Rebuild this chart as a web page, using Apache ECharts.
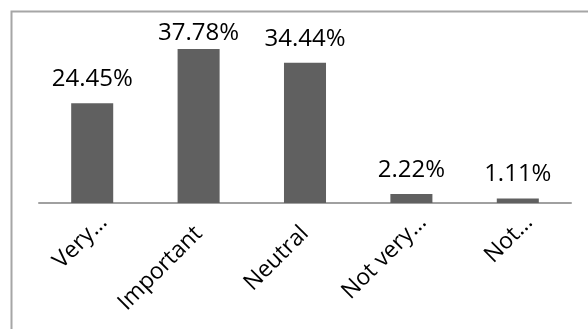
<!DOCTYPE html>
<html>
<head>
<meta charset="utf-8">
<script src="https://cdn.jsdelivr.net/npm/echarts@6/dist/echarts.min.js"></script>
<style>
  html, body { margin: 0; padding: 0; background: #ffffff; }
  #chart { width: 588px; height: 329px; }
</style>
</head>
<body>
<div id="chart"></div>
<script>
// Survey answers and their share of responses (%)
const categories = ['Very…', 'Important', 'Neutral', 'Not very…', 'Not…'];
const shares = [24.45, 37.78, 34.44, 2.22, 1.11];

const FONT = '"Open Sans", "Liberation Sans", sans-serif';

// Shortened names sit a little further along the slanted line than full ones
const axisData = categories.map(name => ({
  value: name,
  textStyle: name.endsWith('…') ? { padding: [0, -16, 0, 0] } : {}
}));

// The tallest bar's value sits closer to its bar so it stays inside the frame
const barData = shares.map(v => ({
  value: v,
  label: v === Math.max(...shares) ? { distance: 4 } : {}
}));

const chart = echarts.init(document.getElementById('chart'), null, { renderer: 'canvas' });
chart.setOption({
  animation: false,
  backgroundColor: '#ffffff',
  graphic: [{
    type: 'rect',
    left: 9, top: 9,
    shape: { width: 640, height: 400 },
    style: { fill: 'none', stroke: '#a6a6a6', lineWidth: 2 },
    silent: true
  }],
  grid: { left: 39, right: 17, top: 40, bottom: 126, containLabel: false },
  xAxis: {
    type: 'category',
    data: axisData,
    axisLine: { lineStyle: { color: '#a0a0a0', width: 2 } },
    axisTick: { show: false },
    axisLabel: {
      rotate: 45,
      margin: 27,
      interval: 0,
      color: '#000000',
      fontFamily: FONT,
      fontSize: 23
    }
  },
  yAxis: {
    type: 'value',
    min: 0, max: 40,
    show: false,
    splitLine: { show: false }
  },
  series: [{
    type: 'bar',
    data: barData,
    barWidth: '39.5%',
    itemStyle: { color: '#606060' },
    label: {
      show: true,
      position: 'top',
      distance: 12,
      color: '#000000',
      fontFamily: FONT,
      fontSize: 24,
      formatter: p => p.value.toFixed(2) + '%'
    }
  }]
});
</script>
</body>
</html>
